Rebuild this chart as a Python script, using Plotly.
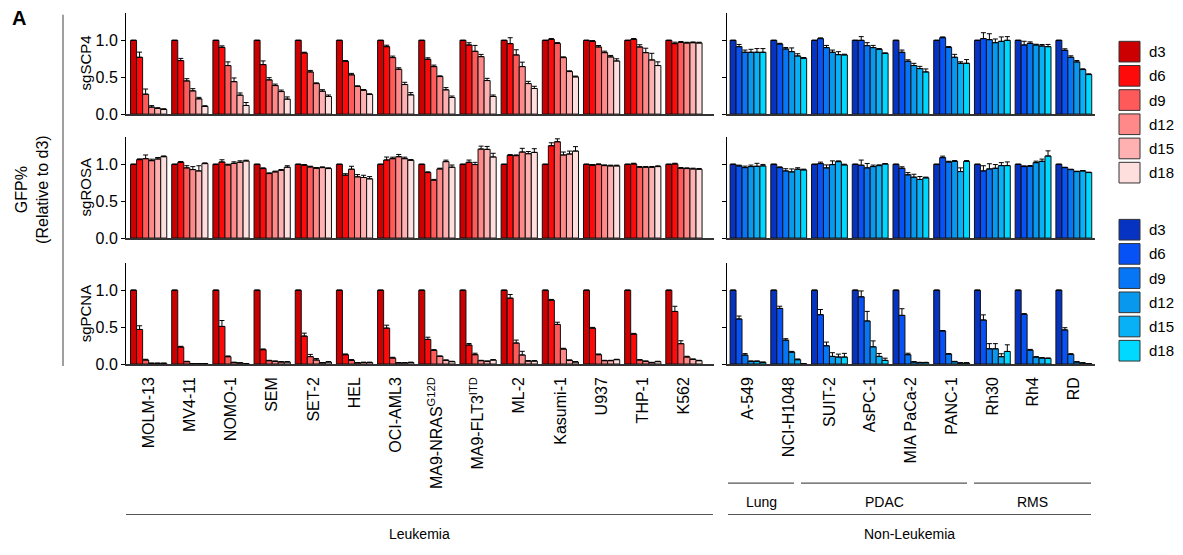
import numpy as np
import plotly.graph_objects as go

W, H = 1183, 555

days = ["d3", "d6", "d9", "d12", "d15", "d18"]
red_colors = ["#cc0000", "#ff0a0a", "#ff5a5a", "#ff8888", "#ffb0b0", "#ffdede"]
blue_colors = ["#0733c2", "#0652f7", "#0676f7", "#0899ee", "#08b0f5", "#00d9ff"]

leuk_lines = ["MOLM-13", "MV4-11", "NOMO-1", "SEM", "SET-2", "HEL", "OCI-AML3",
              "MA9-NRAS<sup>G12D</sup>", "MA9-FLT3<sup>ITD</sup>", "ML-2", "Kasumi-1",
              "U937", "THP-1", "K562"]
solid_lines = ["A-549", "NCI-H1048", "SUIT-2", "AsPC-1", "MIA PaCa-2", "PANC-1",
               "Rh30", "Rh4", "RD"]

# values per cell line: d3, d6, d9, d12, d15, d18
leuk_scp4 = [
    [1, 0.77, 0.27, 0.095, 0.077, 0.063],
    [1, 0.725, 0.45, 0.315, 0.207, 0.104],
    [1, 0.905, 0.658, 0.44, 0.257, 0.117],
    [1, 0.671, 0.464, 0.387, 0.306, 0.203],
    [1, 0.829, 0.572, 0.414, 0.311, 0.239],
    [1, 0.716, 0.532, 0.374, 0.324, 0.266],
    [1, 0.914, 0.766, 0.608, 0.401, 0.261],
    [1, 0.743, 0.644, 0.509, 0.329, 0.225],
    [1, 0.937, 0.851, 0.779, 0.455, 0.239],
    [1, 0.955, 0.802, 0.644, 0.414, 0.347],
    [1, 1.014, 0.959, 0.766, 0.577, 0.505],
    [1, 0.986, 0.91, 0.833, 0.775, 0.72],
    [1, 1.014, 0.91, 0.833, 0.734, 0.658],
    [1, 0.955, 0.973, 0.964, 0.968, 0.964],
]
leuk_scp4_err = [
    [0, 0.07, 0.07, 0.02, 0.01, 0.01],
    [0, 0.03, 0.03, 0.03, 0.02, 0.01],
    [0, 0.02, 0.05, 0.05, 0.03, 0.04],
    [0, 0.05, 0.03, 0.02, 0.02, 0.03],
    [0, 0.01, 0.02, 0.01, 0.02, 0.02],
    [0, 0.01, 0.02, 0.01, 0.01, 0.01],
    [0, 0.02, 0.02, 0.02, 0.03, 0.03],
    [0, 0.02, 0.02, 0.01, 0.03, 0.02],
    [0, 0.03, 0.08, 0.03, 0.03, 0.02],
    [0, 0.08, 0.07, 0.06, 0.03, 0.03],
    [0, 0.01, 0.01, 0.01, 0.01, 0.01],
    [0, 0.01, 0.02, 0.02, 0.02, 0.03],
    [0, 0.01, 0.03, 0.06, 0.09, 0.05],
    [0, 0.02, 0.01, 0.01, 0.01, 0.01],
]
leuk_rosa = [
    [1, 1.063, 1.076, 1.049, 1.072, 1.103],
    [1, 1.027, 0.951, 0.928, 0.91, 1.009],
    [1, 1.031, 0.991, 1.013, 1.027, 1.045],
    [1, 0.942, 0.874, 0.897, 0.919, 0.96],
    [1, 0.987, 0.964, 0.946, 0.955, 0.942],
    [1, 0.852, 0.933, 0.83, 0.821, 0.803],
    [1, 1.058, 1.076, 1.103, 1.076, 1.054],
    [1, 0.888, 0.785, 0.937, 1.036, 0.96],
    [1, 1.027, 0.996, 1.206, 1.202, 1.099],
    [1, 1.121, 1.117, 1.166, 1.143, 1.161],
    [1, 1.251, 1.305, 1.126, 1.139, 1.179],
    [1, 0.987, 0.996, 0.982, 0.978, 0.978],
    [1, 1.004, 0.96, 0.96, 0.96, 0.969],
    [1, 1.004, 0.946, 0.942, 0.937, 0.933],
]
leuk_rosa_err = [
    [0, 0.01, 0.05, 0.02, 0.02, 0.01],
    [0, 0.01, 0.03, 0.04, 0.07, 0.01],
    [0, 0.03, 0.01, 0.02, 0.02, 0.01],
    [0, 0.01, 0.01, 0.01, 0.01, 0.02],
    [0, 0.01, 0.01, 0.01, 0.01, 0.01],
    [0, 0.02, 0.04, 0.03, 0.03, 0.03],
    [0, 0.04, 0.02, 0.03, 0.02, 0.01],
    [0, 0.01, 0.01, 0.01, 0.02, 0.03],
    [0, 0.03, 0.03, 0.04, 0.04, 0.05],
    [0, 0.01, 0.01, 0.05, 0.03, 0.05],
    [0, 0.04, 0.04, 0.04, 0.04, 0.06],
    [0, 0.01, 0.01, 0.01, 0.01, 0.01],
    [0, 0.01, 0.01, 0.01, 0.01, 0.01],
    [0, 0.01, 0.01, 0.01, 0.01, 0.01],
]
leuk_pcna = [
    [1, 0.468, 0.054, 0.01, 0.01, 0.01],
    [1, 0.23, 0.032, 0.005, 0.005, 0.005],
    [1, 0.509, 0.099, 0.02, 0.015, 0.005],
    [1, 0.194, 0.045, 0.036, 0.027, 0.027],
    [1, 0.378, 0.1, 0.054, 0.015, 0.027],
    [1, 0.126, 0.05, 0.015, 0.02, 0.02],
    [1, 0.486, 0.081, 0.015, 0.015, 0.02],
    [1, 0.333, 0.185, 0.104, 0.05, 0.032],
    [1, 0.257, 0.126, 0.045, 0.036, 0.054],
    [1, 0.892, 0.284, 0.122, 0.04, 0.04],
    [1, 0.865, 0.536, 0.203, 0.05, 0.027],
    [1, 0.486, 0.126, 0.045, 0.045, 0.059],
    [1, 0.405, 0.054, 0.036, 0.018, 0.032],
    [1, 0.712, 0.275, 0.095, 0.063, 0.045],
]
leuk_pcna_err = [
    [0, 0.05, 0.01, 0.0, 0.0, 0.0],
    [0, 0.01, 0.005, 0.0, 0.0, 0.0],
    [0, 0.08, 0.01, 0.005, 0.0, 0.0],
    [0, 0.01, 0.005, 0.005, 0.005, 0.005],
    [0, 0.04, 0.03, 0.02, 0.005, 0.005],
    [0, 0.01, 0.01, 0.005, 0.005, 0.005],
    [0, 0.04, 0.01, 0.005, 0.005, 0.005],
    [0, 0.03, 0.01, 0.005, 0.005, 0.005],
    [0, 0.02, 0.02, 0.005, 0.005, 0.005],
    [0, 0.05, 0.04, 0.05, 0.005, 0.005],
    [0, 0.01, 0.03, 0.01, 0.005, 0.005],
    [0, 0.01, 0.01, 0.005, 0.005, 0.005],
    [0, 0.01, 0.005, 0.005, 0.005, 0.005],
    [0, 0.07, 0.04, 0.01, 0.005, 0.005],
]

solid_scp4 = [
    [1, 0.914, 0.838, 0.838, 0.838, 0.838],
    [1, 0.95, 0.883, 0.847, 0.788, 0.757],
    [1, 1.023, 0.901, 0.838, 0.806, 0.802],
    [1, 1.0, 0.928, 0.901, 0.878, 0.824],
    [1, 0.838, 0.716, 0.658, 0.617, 0.572],
    [1, 1.036, 0.905, 0.77, 0.689, 0.689],
    [1, 1.023, 1.009, 0.968, 0.986, 1.0],
    [1, 0.937, 0.959, 0.937, 0.923, 0.914],
    [1, 0.865, 0.77, 0.707, 0.604, 0.536],
]
solid_scp4_err = [
    [0, 0.03, 0.03, 0.04, 0.05, 0.05],
    [0, 0.01, 0.02, 0.05, 0.03, 0.01],
    [0, 0.01, 0.03, 0.03, 0.04, 0.01],
    [0, 0.05, 0.04, 0.03, 0.01, 0.005],
    [0, 0.03, 0.02, 0.03, 0.03, 0.04],
    [0, 0.01, 0.01, 0.04, 0.02, 0.05],
    [0, 0.08, 0.08, 0.05, 0.06, 0.05],
    [0, 0.05, 0.02, 0.01, 0.02, 0.03],
    [0, 0.02, 0.02, 0.02, 0.01, 0.01],
]
solid_rosa = [
    [1, 0.978, 0.955, 0.969, 0.973, 0.978],
    [1, 0.955, 0.91, 0.897, 0.933, 0.924],
    [1, 1.009, 0.951, 0.996, 1.036, 0.991],
    [1, 0.987, 0.951, 0.969, 0.982, 1.004],
    [1, 0.946, 0.857, 0.825, 0.794, 0.816],
    [1, 1.09, 1.031, 1.04, 0.901, 1.04],
    [1, 0.91, 0.937, 0.946, 0.982, 0.982],
    [1, 0.969, 0.973, 1.022, 1.04, 1.112],
    [1, 0.955, 0.928, 0.901, 0.91, 0.888],
]
solid_rosa_err = [
    [0, 0.01, 0.02, 0.02, 0.04, 0.02],
    [0, 0.01, 0.03, 0.04, 0.02, 0.01],
    [0, 0.02, 0.04, 0.05, 0.01, 0.01],
    [0, 0.07, 0.06, 0.02, 0.01, 0.005],
    [0, 0.02, 0.03, 0.04, 0.04, 0.01],
    [0, 0.02, 0.01, 0.01, 0.05, 0.01],
    [0, 0.07, 0.07, 0.05, 0.04, 0.05],
    [0, 0.01, 0.01, 0.02, 0.03, 0.07],
    [0, 0.005, 0.005, 0.005, 0.005, 0.005],
]
solid_pcna = [
    [1, 0.61, 0.121, 0.036, 0.036, 0.022],
    [1, 0.753, 0.323, 0.161, 0.058, 0.004],
    [1, 0.668, 0.247, 0.103, 0.094, 0.094],
    [1, 0.91, 0.583, 0.233, 0.103, 0.049],
    [1, 0.659, 0.126, 0.027, 0.018, 0.018],
    [1, 0.448, 0.135, 0.031, 0.013, 0.013],
    [1, 0.596, 0.206, 0.206, 0.099, 0.17],
    [1, 0.673, 0.188, 0.094, 0.081, 0.076],
    [1, 0.462, 0.13, 0.027, 0.013, 0.004],
]
solid_pcna_err = [
    [0, 0.04, 0.02, 0.005, 0.005, 0.005],
    [0, 0.03, 0.02, 0.01, 0.01, 0.0],
    [0, 0.07, 0.05, 0.05, 0.04, 0.05],
    [0, 0.08, 0.13, 0.08, 0.04, 0.03],
    [0, 0.09, 0.02, 0.005, 0.005, 0.005],
    [0, 0.005, 0.005, 0.005, 0.005, 0.005],
    [0, 0.07, 0.07, 0.07, 0.04, 0.09],
    [0, 0.01, 0.01, 0.005, 0.005, 0.005],
    [0, 0.03, 0.01, 0.005, 0.005, 0.0],
]

row_titles = ["sgSCP4", "sgROSA", "sgPCNA"]
leuk_panels = [(leuk_scp4, leuk_scp4_err), (leuk_rosa, leuk_rosa_err), (leuk_pcna, leuk_pcna_err)]
solid_panels = [(solid_scp4, solid_scp4_err), (solid_rosa, solid_rosa_err), (solid_pcna, solid_pcna_err)]

FONT = "Arial, Liberation Sans, sans-serif"

def px_x(x):
    return x / W

def px_y(y):
    return 1 - y / H

# pixel layout
row_px = [(13, 116), (139, 242), (267, 370)]
col_px = [(126, 714), (726.7, 1095)]
col_range = [[-0.55, 13.73], [-0.523, 8.52]]
col_cats = [leuk_lines, solid_lines]
col_colors = [red_colors, blue_colors]
YMAX = 1.373

fig = go.Figure()
layout = {}
for r in range(3):
    for c in range(2):
        k = r * 2 + c + 1
        xa = "x" if k == 1 else f"x{k}"
        ya = "y" if k == 1 else f"y{k}"
        vals, errs = (leuk_panels if c == 0 else solid_panels)[r]
        vals = np.array(vals).T
        errs = np.array(errs).T
        for d in range(6):
            fig.add_trace(go.Bar(
                x=col_cats[c], y=vals[d], name=days[d], showlegend=False,
                marker=dict(color=col_colors[c][d], line=dict(color="#111111", width=1)),
                error_y=dict(type="data", symmetric=False, array=errs[d],
                             arrayminus=[0] * len(errs[d]), color="#000000",
                             thickness=1, width=2.5),
                xaxis=xa, yaxis=ya, offsetgroup=str(d),
            ))
        xkey = "xaxis" if k == 1 else f"xaxis{k}"
        ykey = "yaxis" if k == 1 else f"yaxis{k}"
        layout[xkey] = dict(
            domain=[px_x(col_px[c][0]), px_x(col_px[c][1])],
            anchor=ya, type="category", range=col_range[c],
            showline=True, linecolor="#333333", linewidth=1.5,
            ticks="outside", ticklen=5, tickcolor="rgba(0,0,0,0)",
            showticklabels=(r == 2), tickangle=-90,
            tickfont=dict(family=FONT, size=16, color="#000000"),
            showgrid=False, zeroline=False,
        )
        layout[ykey] = dict(
            domain=[px_y(row_px[r][1]), px_y(row_px[r][0])],
            anchor=xa, range=[0, YMAX], tickvals=[0, 0.5, 1.0],
            tickformat=".1f", showticklabels=(c == 0),
            ticks="outside", ticklen=4, tickwidth=1, tickcolor="#000000",
            showline=True, linecolor="#000000", linewidth=1,
            tickfont=dict(family=FONT, size=16, color="#000000"),
            showgrid=False, zeroline=False,
        )

annotations = []
shapes = []
for r in range(3):
    yc = (row_px[r][0] + row_px[r][1]) / 2
    annotations.append(dict(x=px_x(85), y=px_y(yc), xref="paper", yref="paper",
                            text=row_titles[r], textangle=-90, showarrow=False,
                            font=dict(family=FONT, size=15, color="#000000"),
                            xanchor="center", yanchor="middle"))

annotations.append(dict(x=px_x(32), y=px_y(192), xref="paper", yref="paper",
                        text="GFP%<br>(Relative to d3)", textangle=-90, showarrow=False,
                        font=dict(family=FONT, size=16, color="#000000"),
                        xanchor="center", yanchor="middle"))
annotations.append(dict(x=px_x(10), y=px_y(18), xref="paper", yref="paper",
                        text="<b>A</b>", showarrow=False,
                        font=dict(family=FONT, size=20, color="#000000"),
                        xanchor="left", yanchor="middle"))
shapes.append(dict(type="line", xref="paper", yref="paper",
                   x0=px_x(63), x1=px_x(63), y0=px_y(15), y1=px_y(372),
                   line=dict(color="#7f7f7f", width=1.5)))

# group brackets
brackets = [("Lung", 728, 794, 491, 510), ("PDAC", 801, 967, 491, 510),
            ("RMS", 974, 1091, 491, 510),
            ("Leukemia", 126, 713, 523, 543), ("Non-Leukemia", 728, 1091, 523, 543)]
for name, x0, x1, yl, yt in brackets:
    shapes.append(dict(type="line", xref="paper", yref="paper",
                       x0=px_x(x0), x1=px_x(x1), y0=px_y(yl), y1=px_y(yl),
                       line=dict(color="#555555", width=1.2)))
    annotations.append(dict(x=px_x((x0 + x1) / 2), y=px_y(yt), xref="paper", yref="paper",
                            text=name, showarrow=False,
                            font=dict(family=FONT, size=14, color="#000000"),
                            xanchor="center", yanchor="middle"))

# legends
legend_sets = [(red_colors, 42), (blue_colors, 223)]
for colors, y0 in legend_sets:
    for i, (col, lab) in enumerate(zip(colors, days)):
        yy = y0 + i * 24.6
        shapes.append(dict(type="rect", xref="paper", yref="paper",
                           x0=px_x(1119), x1=px_x(1140), y0=px_y(yy), y1=px_y(yy + 21),
                           fillcolor=col, line=dict(color="#333333", width=1)))
        annotations.append(dict(x=px_x(1147), y=px_y(yy + 10.5), xref="paper", yref="paper",
                                text=lab, showarrow=False,
                                font=dict(family=FONT, size=15, color="#000000"),
                                xanchor="left", yanchor="middle"))

fig.update_layout(
    width=W, height=H, margin=dict(l=0, r=0, t=0, b=0),
    paper_bgcolor="white", plot_bgcolor="white",
    barmode="group", bargap=0.12, bargroupgap=0.0,
    showlegend=False, annotations=annotations, shapes=shapes,
    **layout,
)

fig.write_html("out.html", config={"displayModeBar": False},
               post_script="document.body.style.margin='0px';document.body.style.overflow='hidden';")
